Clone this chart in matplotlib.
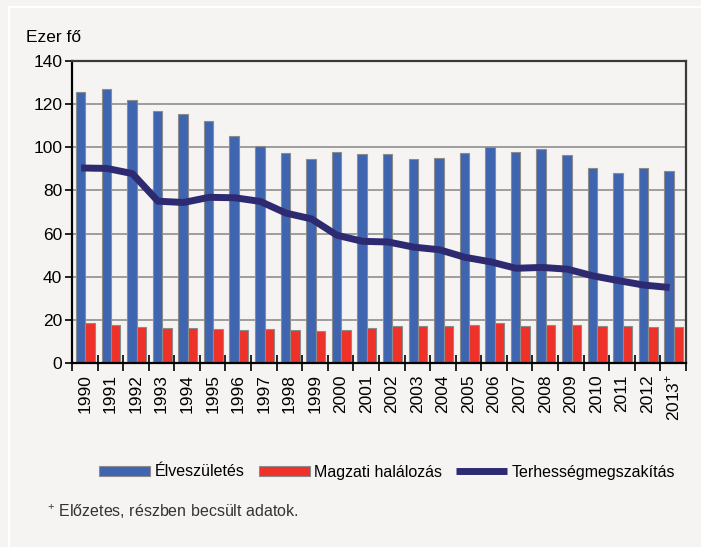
import matplotlib
matplotlib.use("Agg")
import matplotlib.pyplot as plt
from matplotlib.lines import Line2D
import numpy as np

plt.rcParams['font.family'] = ['Liberation Sans', 'DejaVu Sans']
plt.rcParams['mathtext.fontset'] = 'custom'
plt.rcParams['mathtext.rm'] = 'Liberation Sans'

###########################################################

years = ["1990", "1991", "1992", "1993", "1994", "1995", "1996", "1997",
         "1998", "1999", "2000", "2001", "2002", "2003", "2004", "2005",
         "2006", "2007", "2008", "2009", "2010", "2011", "2012", "2013$^{+}$"]

elveszuletes = [125.7, 127.2, 121.8, 117.0, 115.6, 112.1, 105.3, 100.4,
                97.4, 94.6, 97.6, 97.0, 96.8, 94.7, 95.1, 97.5,
                99.9, 97.6, 99.1, 96.4, 90.3, 88.0, 90.3, 89.2]

magzati = [18.4, 17.6, 16.7, 16.4, 16.1, 15.8, 15.1, 15.8,
           15.1, 14.8, 15.1, 16.2, 17.0, 17.0, 17.0, 17.5,
           18.4, 17.2, 17.8, 17.8, 17.0, 17.0, 16.5, 16.7]

terhessegmegszakitas = [90.4, 90.2, 87.8, 75.0, 74.4, 76.8, 76.6, 74.9,
                        69.5, 66.8, 59.2, 56.4, 56.1, 53.7, 52.5, 49.0,
                        46.9, 43.9, 44.3, 43.5, 40.4, 38.2, 36.1, 35.0]

###########################################################

bg = "#f5f4f2"
c_blue = "#3f65b0"
c_red = "#ee3129"
c_line = "#2e2a72"

fig = plt.figure(figsize=(7.01, 5.47), dpi=100, facecolor=bg)
ax = fig.add_axes([0.1027, 0.3364, 0.8759, 0.5521], facecolor=bg)

# thin white frame line at top/left
fig.add_artist(Line2D([9 / 701, 1], [1 - 7 / 547, 1 - 7 / 547], transform=fig.transFigure,
                      color="white", lw=1.5))
fig.add_artist(Line2D([9 / 701, 9 / 701], [0, 1 - 7 / 547], transform=fig.transFigure,
                      color="white", lw=1.5))

x = np.arange(len(years))
w = 0.37
b1 = ax.bar(x - 0.16, elveszuletes, w, color=c_blue, edgecolor="#8c8c8c", lw=0.8,
            label="Élveszületés", zorder=2)
b2 = ax.bar(x + 0.21, magzati, w, color=c_red, edgecolor="#8c8c8c", lw=0.8,
            label="Magzati halálozás", zorder=2)
l1, = ax.plot(x - 0.14, terhessegmegszakitas, color=c_line, lw=5, solid_joinstyle="round",
              solid_capstyle="butt", label="Terhességmegszakítás", zorder=3)

ax.set_xlim(-0.5, len(years) - 0.5)
ax.set_ylim(0, 140)
ax.set_yticks(range(0, 141, 20))
ax.tick_params(axis="y", direction="out", length=5, width=1.2, labelsize=12.5, pad=2)
ax.yaxis.grid(True, color="#8e8e8e", lw=1.2, zorder=0)
ax.set_axisbelow(True)

ax.set_xticks(x)
ax.set_xticklabels(years, rotation=90, fontsize=12.5, va="top")
ax.tick_params(axis="x", length=0, pad=8)
ax.set_xticks(np.arange(-0.5, len(years), 1), minor=True)
ax.tick_params(axis="x", which="minor", direction="inout", length=11, width=1.2)

for s in ["left", "bottom"]:
    ax.spines[s].set_linewidth(1.6)
    ax.spines[s].set_color("black")
for s in ["top", "right"]:
    ax.spines[s].set_linewidth(1.6)
    ax.spines[s].set_color("#3a3a3a")

fig.text(26 / 701, 1 - 37 / 547, "Ezer fő", fontsize=12.5, va="center", ha="left")

fig.legend(handles=[b1, b2, l1], loc="center", bbox_to_anchor=(387 / 701, 1 - 472 / 547),
           ncol=3, frameon=False, fontsize=11.5, handlelength=3.2, handleheight=0.6,
           handletextpad=0.25, columnspacing=0.9, borderpad=0, borderaxespad=0)

fig.text(47 / 701, 1 - 512 / 547, "$^{+}$ Előzetes, részben becsült adatok.",
         fontsize=11.5, color="#333333", va="center", ha="left")

fig.savefig("out.png", dpi=100, facecolor=bg)
